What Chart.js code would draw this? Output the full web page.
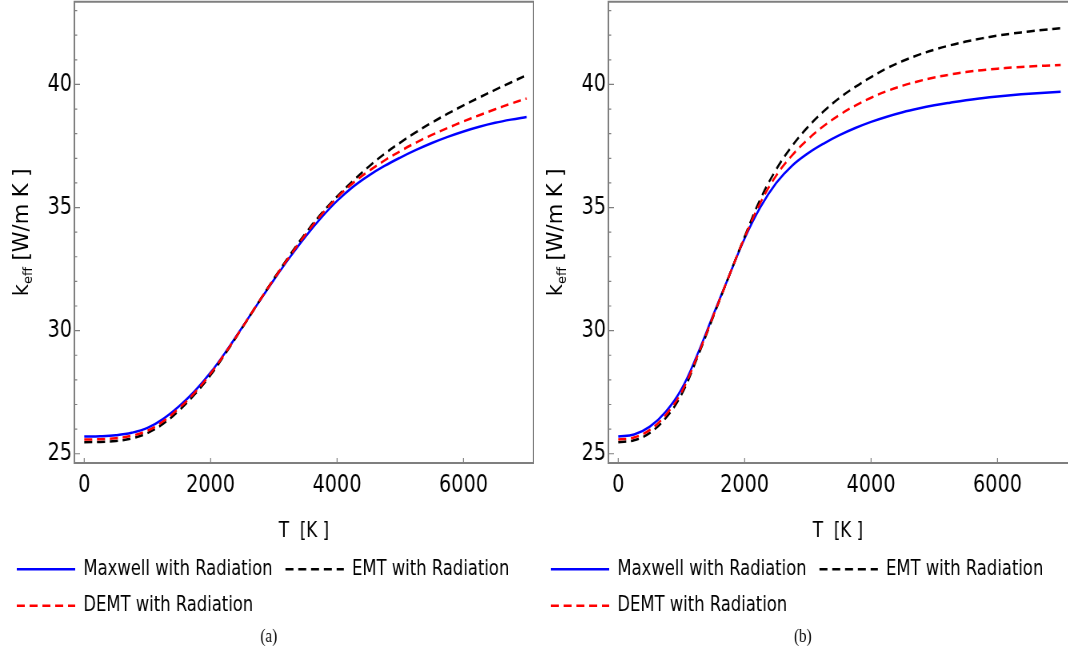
<!DOCTYPE html>
<html>
<head>
<meta charset="utf-8">
<script src="https://cdn.jsdelivr.net/npm/chart.js@4"></script>
<style>
  body { margin: 0; background: #fff; }
  #wrap { position: relative; width: 1068px; height: 652px; overflow: hidden; }
  .panel { position: absolute; top: 0; width: 534px; height: 652px; overflow: hidden; }
  .panel canvas { transform: scaleX(0.8); transform-origin: 0 0; }
</style>
</head>
<body>
<div id="wrap">
  <div class="panel" style="left:0"><canvas id="chartA" width="668" height="652"></canvas></div>
  <div class="panel" style="left:534px"><canvas id="chartB" width="668" height="652"></canvas></div>
</div>
<script>
// temperature grid (K)
const tempK = [0, 250, 500, 750, 1000, 1250, 1500, 1750, 2000, 2250, 2500, 2750, 3000, 3250, 3500,
  3750, 4000, 4250, 4500, 4750, 5000, 5250, 5500, 5750, 6000, 6250, 6500, 6750, 7000];

// panel (a)
const maxwellA = [25.70, 25.71, 25.75, 25.85, 26.05, 26.42, 26.93, 27.55, 28.30, 29.18, 30.14, 31.11, 32.06, 32.97, 33.82,
  34.59, 35.27, 35.84, 36.30, 36.69, 37.03, 37.34, 37.62, 37.87, 38.09, 38.28, 38.44, 38.57, 38.68];
const emtA = [25.47, 25.48, 25.52, 25.62, 25.84, 26.22, 26.76, 27.42, 28.20, 29.13, 30.12, 31.12, 32.11, 33.06, 33.95,
  34.75, 35.45, 36.08, 36.66, 37.18, 37.64, 38.06, 38.45, 38.81, 39.15, 39.47, 39.78, 40.08, 40.38];
const demtA = [25.58, 25.59, 25.63, 25.73, 25.94, 26.32, 26.85, 27.49, 28.26, 29.16, 30.13, 31.12, 32.09, 33.02, 33.90,
  34.70, 35.40, 35.99, 36.48, 36.91, 37.29, 37.64, 37.95, 38.23, 38.50, 38.75, 38.99, 39.22, 39.43];

// panel (b)
const maxwellB = [25.70, 25.78, 26.10, 26.70, 27.62, 29.02, 30.62, 32.20, 33.75, 35.02, 36.00, 36.70, 37.20, 37.60, 37.94,
  38.23, 38.48, 38.69, 38.87, 39.02, 39.15, 39.26, 39.36, 39.44, 39.51, 39.57, 39.62, 39.66, 39.70];
const emtB = [25.47, 25.55, 25.85, 26.45, 27.40, 28.90, 30.55, 32.20, 33.82, 35.35, 36.55, 37.50, 38.27, 38.91, 39.45,
  39.90, 40.30, 40.66, 40.95, 41.20, 41.41, 41.59, 41.74, 41.87, 41.98, 42.07, 42.15, 42.22, 42.28];
const demtB = [25.58, 25.66, 25.97, 26.57, 27.50, 28.95, 30.58, 32.20, 33.79, 35.20, 36.30, 37.12, 37.77, 38.31, 38.76,
  39.14, 39.46, 39.73, 39.95, 40.13, 40.28, 40.40, 40.50, 40.58, 40.64, 40.69, 40.73, 40.76, 40.79];

const seriesNames = ['Maxwell with Radiation', 'EMT with Radiation', 'DEMT with Radiation'];
const xTicks = [0, 2000, 4000, 6000];
const yTicks = [25, 30, 35, 40];
const yMinorTicks = [26, 27, 28, 29, 31, 32, 33, 34, 36, 37, 38, 39, 41, 42, 43];

const FONT = 'DejaVu Sans';

// frame, inward ticks and the y title with subscript
const frameTicks = {
  id: 'frameTicks',
  afterDraw(chart, args, opts) {
    const {ctx, chartArea: a, scales: {x, y}} = chart;
    ctx.save();
    ctx.strokeStyle = '#7f7f7f';
    ctx.lineWidth = 1.2;
    ctx.beginPath();
    xTicks.forEach(v => {
      const px = x.getPixelForValue(v);
      ctx.moveTo(px, a.bottom);
      ctx.lineTo(px, a.bottom - 5);
    });
    yTicks.forEach(v => {
      const py = y.getPixelForValue(v);
      ctx.moveTo(a.left, py);
      ctx.lineTo(a.left + 7, py);
    });
    yMinorTicks.forEach(v => {
      const py = y.getPixelForValue(v);
      ctx.moveTo(a.left, py);
      ctx.lineTo(a.left + 3.5, py);
    });
    ctx.stroke();

    ctx.lineWidth = 2;
    ctx.beginPath();
    const r = opts.noRight ? chart.width : a.right;
    ctx.moveTo(r, a.top);
    ctx.lineTo(a.left, a.top);
    ctx.lineTo(a.left, a.bottom);
    ctx.lineTo(r, a.bottom);
    if (!opts.noRight) ctx.closePath();
    ctx.stroke();

    // y axis title: k_eff [W/m K]  (undo the panel squeeze for the rotated text)
    ctx.fillStyle = '#000';
    ctx.textBaseline = 'alphabetic';
    ctx.textAlign = 'left';
    ctx.translate(26, (a.top + a.bottom) / 2);
    ctx.scale(1.25, 1);
    ctx.rotate(-Math.PI / 2);
    const big = '21px "' + FONT + '"', small = '13px "' + FONT + '"';
    ctx.font = big;
    const w1 = ctx.measureText('k').width, w3 = ctx.measureText(' [W/m K ]').width;
    ctx.font = small;
    const w2 = ctx.measureText('eff').width;
    let sx = -(w1 + w2 + w3) / 2;
    ctx.font = big;
    ctx.fillText('k', sx, 7);
    sx += w1;
    ctx.font = small;
    ctx.fillText('eff', sx, 11);
    sx += w2;
    ctx.font = big;
    ctx.fillText(' [W/m K ]', sx, 7);
    ctx.restore();
  }
};

function legendLabels(chart) {
  const items = Chart.defaults.plugins.legend.labels.generateLabels(chart);
  items.forEach(it => {
    const ds = chart.data.datasets[it.datasetIndex];
    it.lineDash = ds.borderDash || [];
    it.strokeStyle = ds.borderColor;
    it.lineWidth = ds.borderWidth;
  });
  return items.sort((p, q) => p.datasetIndex - q.datasetIndex);
}

function makeChart(id, caption, maxwell, emt, demt, noRight) {
  const pts = arr => tempK.map((t, i) => ({x: t, y: arr[i]}));
  const data = {
    datasets: [
      {label: seriesNames[0], data: pts(maxwell), borderColor: '#0000ff', backgroundColor: '#0000ff',
        borderWidth: 2.5, order: 3},
      {label: seriesNames[1], data: pts(emt), borderColor: '#000000', backgroundColor: '#000000',
        borderWidth: 2.5, borderDash: [10, 6], order: 2},
      {label: seriesNames[2], data: pts(demt), borderColor: '#ff0000', backgroundColor: '#ff0000',
        borderWidth: 2.5, borderDash: [10, 6], order: 1}
    ]
  };
  const config = {
    type: 'line',
    data: data,
    options: {
      responsive: false,
      animation: false,
      devicePixelRatio: 1,
      elements: {point: {radius: 0}, line: {tension: 0.4}},
      layout: {padding: {top: 1.7, left: 5, right: 1, bottom: 5}},
      plugins: {
        frameTicks: {noRight: noRight},
        legend: {
          position: 'bottom',
          align: 'start',
          labels: {
            usePointStyle: true,
            pointStyle: 'line',
            pointStyleWidth: 73,
            padding: 16,
            color: '#000',
            font: {family: FONT, size: 20.5},
            generateLabels: legendLabels
          }
        },
        title: {
          display: true,
          position: 'bottom',
          text: caption,
          color: '#000',
          font: {family: 'Liberation Serif', size: 19, weight: 'normal', lineHeight: 1.1},
          padding: {top: 0, bottom: 0}
        },
        tooltip: {enabled: false}
      },
      scales: {
        x: {
          type: 'linear',
          min: -156,
          max: 7109,
          grid: {display: false, drawTicks: false},
          border: {display: false},
          afterBuildTicks: s => { s.ticks = xTicks.map(v => ({value: v})); },
          afterFit: s => { s.height = 80; s.paddingLeft = 0; s.paddingRight = 0; },
          ticks: {
            padding: 8, color: '#000', maxRotation: 0, autoSkip: false,
            font: {family: FONT, size: 24},
            callback: v => String(v)
          },
          title: {
            display: true, text: 'T  [K ]', color: '#000',
            font: {family: FONT, size: 21, lineHeight: 1.1},
            padding: {top: 0, bottom: 0}
          }
        },
        y: {
          min: 24.62,
          max: 43.36,
          grid: {display: false, drawTicks: false},
          border: {display: false},
          afterBuildTicks: s => { s.ticks = yTicks.map(v => ({value: v})); },
          afterFit: s => { s.width = 88; s.paddingTop = 0; s.paddingBottom = 0; },
          ticks: {
            padding: 3, color: '#000', autoSkip: false,
            font: {family: FONT, size: 24},
            callback: v => String(v)
          }
        }
      }
    },
    plugins: [frameTicks]
  };
  return new Chart(document.getElementById(id), config);
}

makeChart('chartA', '(a)', maxwellA, emtA, demtA, false);
makeChart('chartB', '(b)', maxwellB, emtB, demtB, true);
</script>
</body>
</html>
